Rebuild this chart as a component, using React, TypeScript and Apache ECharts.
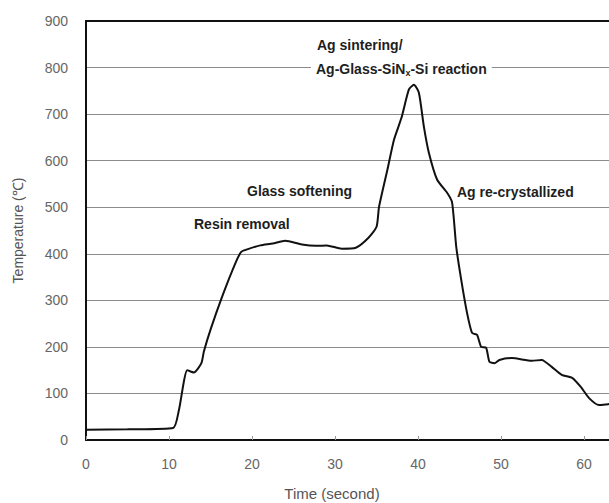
import React, { useEffect, useRef } from "react";
import * as echarts from "echarts";

const timeSeconds = [0, 5, 10.5, 11.2, 12.2, 13.0, 13.9, 14.2, 15.0, 16.4, 18.0, 18.7, 19.5, 21, 22.5, 24, 26, 27.7, 29, 30.8, 32.5, 34, 35, 35.3, 36.3, 37.1, 38, 38.9, 39.5, 40.1, 40.7, 41.3, 42.3, 43.5, 44.1, 44.6, 45.2, 45.9, 46.5, 47.1, 47.6, 48.2, 48.6, 49.2, 49.8, 51.3, 53.7, 54.9, 56.1, 57.3, 58.6, 59.6, 60.6, 61.8, 62.9, 63.5];
const temperatures = [22, 23, 26, 65, 150, 145, 165, 190, 237, 308, 380, 404, 410, 418, 422, 428, 420, 417, 418, 411, 413, 434, 458, 501, 580, 645, 692, 753, 763, 746, 673, 617, 559, 531, 510, 415, 344, 273, 230, 226, 200, 198, 168, 165, 172, 176, 170, 172, 157, 140, 133, 114, 90, 75, 77, 78];

const xTitle = "Time (second)";
const yTitle = "Temperature (℃)";

const FONT = "'Liberation Sans', Arial, sans-serif";

export default function App() {
  const ref = useRef<HTMLDivElement>(null);
  useEffect(() => {
    if (!ref.current) return;
    const chart = echarts.init(ref.current, null, { renderer: "svg" });
    const data = timeSeconds.map((t, i) => [t, temperatures[i]]);
    const labelBold = {
      fontFamily: FONT,
      fontWeight: "bold" as const,
      fontSize: 14,
      fill: "#1e1e1e",
    };
    chart.setOption({
      animation: false,
      backgroundColor: "#ffffff",
      grid: {
        left: 86,
        top: 21,
        bottom: 63,
        right: 0,
        show: false,
      },
      xAxis: [
        {
          type: "value",
          min: 0,
          max: 63,
          interval: 10,
          axisLine: { show: true, onZero: false, lineStyle: { color: "#111", width: 2 } },
          axisTick: { show: true, inside: true, length: 4, lineStyle: { color: "#999" } },
          splitLine: { show: false },
          axisLabel: { fontFamily: FONT, fontSize: 14, color: "#666", margin: 17, showMaxLabel: false },
        },
        {
          type: "value",
          position: "top",
          min: 0,
          max: 63,
          interval: 10,
          axisLine: { show: true, onZero: false, lineStyle: { color: "#111", width: 2 } },
          axisTick: { show: false },
          axisLabel: { show: false },
          splitLine: { show: false },
        },
      ],
      yAxis: {
        type: "value",
        min: 0,
        max: 900,
        interval: 100,
        name: yTitle,
        nameLocation: "middle",
        nameRotate: 90,
        nameGap: 61,
        nameTextStyle: { fontFamily: FONT, fontSize: 14, color: "#555" },
        axisLine: { show: true, onZero: false, lineStyle: { color: "#111", width: 2 } },
        axisTick: { show: false },
        splitLine: { show: true, lineStyle: { color: "#8c8c8c", width: 1 } },
        axisLabel: { fontFamily: FONT, fontSize: 14, color: "#666", margin: 18 },
      },
      series: [
        {
          type: "line",
          data,
          showSymbol: false,
          smooth: 0.2,
          clip: true,
          lineStyle: { color: "#111", width: 2 },
          z: 5,
        },
      ],
      graphic: [
        {
          type: "text",
          x: 332,
          y: 493,
          style: {
            text: xTitle,
            fontFamily: FONT,
            fontSize: 15,
            fill: "#555",
            align: "center",
            verticalAlign: "middle",
          },
        },
        {
          type: "text",
          x: 317,
          y: 45,
          style: { ...labelBold, text: "Ag sintering/", verticalAlign: "middle" },
        },
        {
          type: "text",
          x: 311,
          y: 69,
          z: 10,
          style: {
            ...labelBold,
            text: "Ag-Glass-SiN{sub|x}-Si reaction",
            verticalAlign: "middle",
            backgroundColor: "#ffffff",
            padding: [2, 5, 2, 5],
            rich: {
              sub: {
                fontFamily: FONT,
                fontWeight: "bold",
                fontSize: 9,
                fill: "#1e1e1e",
                padding: [7, 0, 0, 0],
              },
            },
          },
        },
        {
          type: "text",
          x: 247,
          y: 191,
          style: { ...labelBold, text: "Glass softening", verticalAlign: "middle" },
        },
        {
          type: "text",
          x: 194,
          y: 224,
          style: { ...labelBold, text: "Resin removal", verticalAlign: "middle" },
        },
        {
          type: "text",
          x: 457,
          y: 192,
          style: { ...labelBold, text: "Ag re-crystallized", verticalAlign: "middle" },
        },
      ],
    });
    return () => chart.dispose();
  }, []);
  return (
    <div
      ref={ref}
      style={{ position: "fixed", left: 0, top: 0, width: 609, height: 503, background: "#fff" }}
    />
  );
}
